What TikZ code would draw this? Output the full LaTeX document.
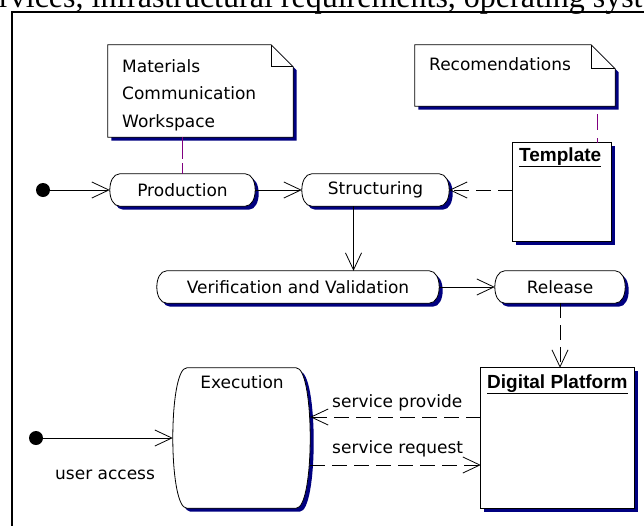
\documentclass[tikz,border=0pt]{standalone}
\usepackage{fontspec}
\setmainfont{DejaVu Sans}
\newfontfamily\titlefont{Liberation Sans}
\newfontfamily\headfont{Liberation Serif}
\usetikzlibrary{arrows.meta,calc}
\pgfdeclarelayer{shapes}
\pgfsetlayers{shapes,main}

\definecolor{shadowblue}{RGB}{0,0,128}
\definecolor{notelink}{RGB}{128,0,128}

% activity state outline: flat top and bottom, bulging ends (#2 = bulge)
\newcommand\actpath[2]{($(#1.north west)+(#2,0)$) -- ($(#1.north east)+(-#2,0)$)
  .. controls ($(#1.north east)+(#2/3,0)$) and ($(#1.south east)+(#2/3,0)$) .. ($(#1.south east)+(-#2,0)$)
  -- ($(#1.south west)+(#2,0)$)
  .. controls ($(#1.south west)+(-#2/3,0)$) and ($(#1.north west)+(-#2/3,0)$) .. cycle}
% note outline with a folded corner (#2 = fold size)
\newcommand\notepath[2]{(#1.north west) -- ($(#1.north east)+(-#2,0)$) -- ($(#1.north east)+(0,#2)$)
  -- (#1.south east) -- (#1.south west) -- cycle}

\tikzset{
  txt/.style={font=\fontsize{17}{20}\selectfont, inner sep=0pt},
  actbox/.style={inner sep=0pt, font=\fontsize{17}{20}\selectfont},
  plainbox/.style={inner sep=0pt},
  titletxt/.style={inner sep=0pt, font=\titlefont\bfseries\fontsize{19}{22}\selectfont},
  startdot/.style={circle, fill=black, minimum size=14pt, inner sep=0pt},
  flow/.style={line width=0.8pt, -{Straight Barb[length=17pt,width=16pt,line width=0.8pt]}},
  depend/.style={flow, dash pattern=on 15pt off 7pt},
  notelinkline/.style={draw=notelink, line width=1pt},
  shadowfill/.style={fill=shadowblue, draw=none},
  shadowshift/.style={transform canvas={xshift=3.5pt, yshift=-3.5pt}},
  outline/.style={fill=white, draw=black, line width=0.8pt},
}

\begin{document}
\begin{tikzpicture}[x=1pt,y=-1pt]
\useasboundingbox (0,0) rectangle (644,525);

% heading line of the surrounding page, cut at the top
\begin{scope}
  \clip (0,0) rectangle (644,525);
  \node[anchor=base west, inner sep=0pt, font=\headfont\fontsize{32}{36}\selectfont] (heading) at (-1,7)
    {rvices, infrastructural requirements, operating syst};
  % frame
  \draw[line width=2pt] (12,530) -- (12,12) -- (650,12);
\end{scope}

% notes
\node[plainbox, minimum width=185pt, minimum height=92pt] (note1) at (200.5,91) {};
\node[txt, anchor=north west, align=left, font=\fontsize{17}{27.5}\selectfont] (note1t) at (122,59)
  {Materials\\Communication\\Workspace};
\node[plainbox, minimum width=200pt, minimum height=61pt] (rec) at (515,75.5) {};
\node[txt, anchor=base west] (rect) at (429,70) {Recomendations};

% states
\node[startdot] (init1) at (43,190) {};
\node[actbox, minimum width=145pt, minimum height=32pt] (prod) at (182.5,190) {Production};
\node[actbox, minimum width=147pt, minimum height=32pt] (struct) at (375.5,190) {Structuring};
\node[actbox, minimum width=282pt, minimum height=32pt] (vv) at (298,287) {Verification and Validation};
\node[actbox, minimum width=130pt, minimum height=32pt] (rel) at (560,287) {Release};
\node[startdot] (init2) at (36,438) {};
\node[actbox, minimum width=137pt, minimum height=140pt] (exec) at (241.5,438) {};
\node[txt, anchor=base] (exect) at (242,388) {Execution};

% objects
\node[plainbox, minimum width=98pt, minimum height=98pt] (tmpl) at (562,192) {};
\node[titletxt, anchor=base west] (tmplt) at (519,161) {Template};
\node[plainbox, minimum width=153pt, minimum height=140pt] (dp) at (557.5,438) {};
\node[titletxt, anchor=base west] (dpt) at (487,388) {Digital Platform};

% transition labels
\node[txt, anchor=base west] (sprov) at (332,407) {service provide};
\node[txt, anchor=base west] (sreq) at (332,453) {service request};
\node[txt, anchor=base west] (uacc) at (55,479) {user access};

% title underlines
\draw[line width=1.4pt] ([yshift=-1.5pt]tmplt.south west) -- ([yshift=-1.5pt]tmplt.south east);
\draw[line width=1.4pt] ([yshift=-1.5pt]dpt.south west) -- ([yshift=-1.5pt]dpt.south east);

% shapes with their shadows, behind the text
\begin{pgfonlayer}{shapes}
  \begin{scope}[shadowshift]
    \foreach \n/\d in {prod/10, struct/10, vv/10, rel/10, exec/14}
      \fill[shadowfill] \actpath{\n}{\d};
    \foreach \n in {tmpl, dp}
      \fill[shadowfill] (\n.north west) rectangle (\n.south east);
    \foreach \n/\f in {note1/22, rec/24}
      \fill[shadowfill] \notepath{\n}{\f};
  \end{scope}
  \foreach \n/\d in {prod/10, struct/10, vv/10, rel/10, exec/14}
    \draw[outline] \actpath{\n}{\d};
  \foreach \n in {tmpl, dp}
    \draw[outline] (\n.north west) rectangle (\n.south east);
  \foreach \n/\f in {note1/22, rec/24} {
    \draw[outline] \notepath{\n}{\f};
    \draw[line width=0.8pt] ($(\n.north east)+(-\f,0)$) -- ++(0,\f) -- ($(\n.north east)+(0,\f)$);
  }
\end{pgfonlayer}

% note links
\draw[notelinkline, dash pattern=on 22pt off 4pt] (note1.south -| prod.north) -- (prod.north);
\draw[notelinkline, dash pattern=on 16pt off 8pt, dash phase=16pt]
  ([xshift=35pt]tmpl.north |- rec.south) -- ([xshift=35pt]tmpl.north);

% transitions
\draw[flow] (init1.east) -- (prod.west);
\draw[flow] (prod.east) -- (struct.west);
\draw[depend] (tmpl.west |- struct.east) -- (struct.east);
\draw[flow] ([xshift=-22pt]struct.south) -- ([xshift=-22pt]struct.south |- vv.north);
\draw[flow] (vv.east) -- (rel.west);
\draw[depend] (rel.south) -- (rel.south |- dp.north);
\draw[flow] (init2.east) -- (exec.west);
\draw[depend] ([yshift=21pt]dp.west) -- ([yshift=21pt]exec.east);
\draw[depend] ([yshift=-27pt]exec.east) -- ([yshift=-27pt]dp.west);
\end{tikzpicture}
\end{document}
